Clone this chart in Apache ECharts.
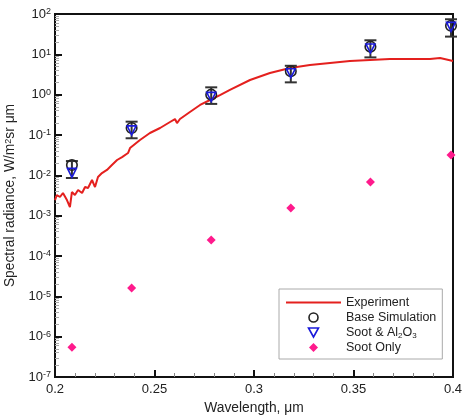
<!DOCTYPE html>
<html><head><meta charset="utf-8">
<script src="https://cdn.jsdelivr.net/npm/echarts@6/dist/echarts.min.js"></script>
<style>html,body{margin:0;padding:0;background:#fff}#c{width:463px;height:415px}</style>
</head><body><div id="c"></div>
<script>
// Experiment curve (wavelength, µm ; radiance)
const expX = [0.2000,0.2009,0.2025,0.2040,0.2060,0.2075,0.2085,0.2100,0.2116,0.2136,0.2151,0.2166,0.2186,0.2201,0.2216,0.2236,0.2261,0.2286,0.2312,0.2337,0.2367,0.2377,0.2427,0.2477,0.2528,0.2578,0.2603,0.2613,0.2628,0.2678,0.2729,0.2779,0.2829,0.2879,0.2980,0.3080,0.3181,0.3281,0.3382,0.3482,0.3583,0.3683,0.3784,0.3884,0.3935,0.4000];
const expY = [0.00244,0.00325,0.0029,0.00365,0.00244,0.00164,0.00385,0.00325,0.00432,0.00365,0.00513,0.00485,0.00766,0.00513,0.00908,0.0114,0.0136,0.018,0.024,0.0284,0.0357,0.0475,0.0752,0.112,0.149,0.21,0.249,0.198,0.249,0.372,0.555,0.738,0.98,1.31,2.31,3.44,4.58,5.43,6.1,6.84,7.23,7.66,7.66,7.66,8.11,6.84];
// Simulation wavelengths
const simX = [0.2085,0.2385,0.2785,0.3185,0.3585,0.3990];
const baseSim = [0.018,0.149,1.0,3.8,15.5,51];
const sootAl2O3 = [0.0115,0.13,0.88,3.4,14,48];
const sootOnly = [5.5e-7,1.6e-5,2.5e-4,1.55e-3,6.8e-3,0.032];
const errLow = [0.0086,0.083,0.59,2.02,8.4,27.5];
const errHigh = [0.0226,0.214,1.52,5.2,22.3,74];
const xTicks = [0.2,0.25,0.3,0.35,0.4];
const yDecades = [-7,-6,-5,-4,-3,-2,-1,0,1,2];
const yMinorMult = [2,3,4,5,6,7,8,9];

const yMinorTicks = [];
yDecades.slice(0, -1).forEach(d => yMinorMult.forEach(m => yMinorTicks.push(m * Math.pow(10, d))));

const FONT = 'Arial, "Liberation Sans", sans-serif';
const TRI = 'path://M0,0 L10,0 L5,9 Z';
const DIA = 'path://M5,0 L10,5 L5,10 L0,5 Z';
const chart = echarts.init(document.getElementById('c'));
const supStyle = {fontSize: 9, fontFamily: FONT, color: '#222', verticalAlign: 'top', padding:[0,0,0,0]};
chart.setOption({
  animation: false,
  grid: {left: 55, right: 10, top: 14, bottom: 38, outerBoundsMode: 'none', containLabel: false,
    show: true, borderColor: '#111', borderWidth: 2, backgroundColor: 'transparent'},
  xAxis: {
    type: 'value', min: 0.2, max: 0.4, interval: 0.05,
    name: 'Wavelength, μm', nameLocation: 'middle', nameGap: 13,
    nameTextStyle: {fontFamily: FONT, fontSize: 13.8, color: '#222'},
    axisLine: {show: true, lineStyle: {color: '#111', width: 2}},
    axisTick: {show: true, inside: true, length: 7, lineStyle: {color: '#111', width: 2}},
    minorTick: {show: true, splitNumber: 5, length: 4, lineStyle: {color: '#888', width: 1}},
    splitLine: {show: false},
    axisLabel: {fontFamily: FONT, fontSize: 13, color: '#222', margin: 6,
      formatter: v => { const t = xTicks.find(k => Math.abs(k - v) < 1e-9); return t === undefined ? '' : String(t); }}
  },
  yAxis: [{
    type: 'log', logBase: 10, min: 1e-7, max: 100,
    name: '{a|Spectral radiance, W/m}{s|2}{a|sr μm}', nameLocation: 'middle', nameGap: 29,
    nameTextStyle: {fontFamily: FONT, fontSize: 13.8, color: '#222',
      rich: {a: {fontFamily: FONT, fontSize: 13.8, color: '#222'}, s: {fontFamily: FONT, fontSize: 9, color: '#222', verticalAlign: 'top'}}},
    axisLine: {show: true, lineStyle: {color: '#111', width: 2}},
    axisTick: {show: true, inside: true, length: 7, lineStyle: {color: '#111', width: 2}},
    splitLine: {show: false},
    axisLabel: {margin: 4, fontFamily: FONT, color: '#222',
      formatter: v => { const e = Math.round(Math.log10(v)); return '{b|10}{e|' + e + '}'; },
      rich: {b: {fontSize: 13, fontFamily: FONT, color: '#222'}, e: supStyle}}
  }, {
    type: 'log', logBase: 10, min: 1e-7, max: 100, position: 'left', offset: 0,
    axisLine: {show: false}, axisLabel: {show: false}, splitLine: {show: false},
    axisTick: {show: true, inside: true, length: 4, customValues: yMinorTicks, lineStyle: {color: '#aaa', width: 1}}
  }],
  legend: {
    orient: 'vertical', left: 279, top: 289,
    borderColor: '#aaa', borderWidth: 1, padding: [6, 6, 4, 6],
    itemGap: 0, itemWidth: 55, itemHeight: 9, symbolKeepAspect: true,
    textStyle: {fontFamily: FONT, fontSize: 12.5, color: '#222', lineHeight: 15,
      rich: {a: {fontFamily: FONT, fontSize: 12.5, color: '#222', lineHeight: 15}, s: {fontFamily: FONT, fontSize: 8, color: '#222', verticalAlign: 'bottom', lineHeight: 15}}},
    formatter: n => n === 'Soot & Al2O3' ? '{a|Soot & Al}{s|2}{a|O}{s|3}' : n,
    data: [
      {name: 'Experiment', itemStyle: {opacity: 0}, lineStyle: {color: '#e4201e', width: 2, opacity: 1}},
      {name: 'Base Simulation', icon: 'circle', itemStyle: {color: 'rgba(0,0,0,0)', borderColor: '#222', borderWidth: 1.6}},
      {name: 'Soot & Al2O3', icon: TRI, itemStyle: {color: 'rgba(0,0,0,0)', borderColor: '#1a1adb', borderWidth: 1.6}},
      {name: 'Soot Only', icon: DIA, itemStyle: {color: '#ff1a8c'}}
    ]
  },
  series: [
    {name: 'Experiment', type: 'line', data: expX.map((x, i) => [x, expY[i]]),
      showSymbol: false, symbol: 'none', lineStyle: {color: '#e4201e', width: 2}, itemStyle: {color: '#e4201e'}, z: 2},
    {name: 'errbars', type: 'custom', data: simX.map((x, i) => [x, errLow[i], errHigh[i]]),
      encode: {x: 0, y: [1, 2]}, z: 3,
      renderItem: (params, api) => {
        const x = api.value(0);
        const lo = api.coord([x, api.value(1)]);
        const hi = api.coord([x, api.value(2)]);
        const w = 6, st = {stroke: '#333', lineWidth: 2};
        return {type: 'group', children: [
          {type: 'line', shape: {x1: lo[0], y1: lo[1], x2: hi[0], y2: hi[1]}, style: st},
          {type: 'line', shape: {x1: hi[0] - w, y1: hi[1], x2: hi[0] + w, y2: hi[1]}, style: st},
          {type: 'line', shape: {x1: lo[0] - w, y1: lo[1], x2: lo[0] + w, y2: lo[1]}, style: st}
        ]};
      }},
    {name: 'Base Simulation', type: 'scatter', data: simX.map((x, i) => [x, baseSim[i]]),
      symbol: 'circle', symbolSize: 10.5, z: 4,
      itemStyle: {color: 'rgba(0,0,0,0)', borderColor: '#222', borderWidth: 1.6, opacity: 1}},
    {name: 'Soot & Al2O3', type: 'scatter', data: simX.map((x, i) => [x, sootAl2O3[i]]),
      symbol: 'triangle', symbolRotate: 180, symbolSize: 9, z: 5,
      itemStyle: {color: 'rgba(0,0,0,0)', borderColor: '#1a1adb', borderWidth: 1.6, opacity: 1}},
    {name: 'Soot Only', type: 'scatter', data: simX.map((x, i) => [x, sootOnly[i]]),
      symbol: 'diamond', symbolSize: 9, z: 5,
      itemStyle: {color: '#ff1a8c', opacity: 1}}
  ]
});
</script></body></html>
